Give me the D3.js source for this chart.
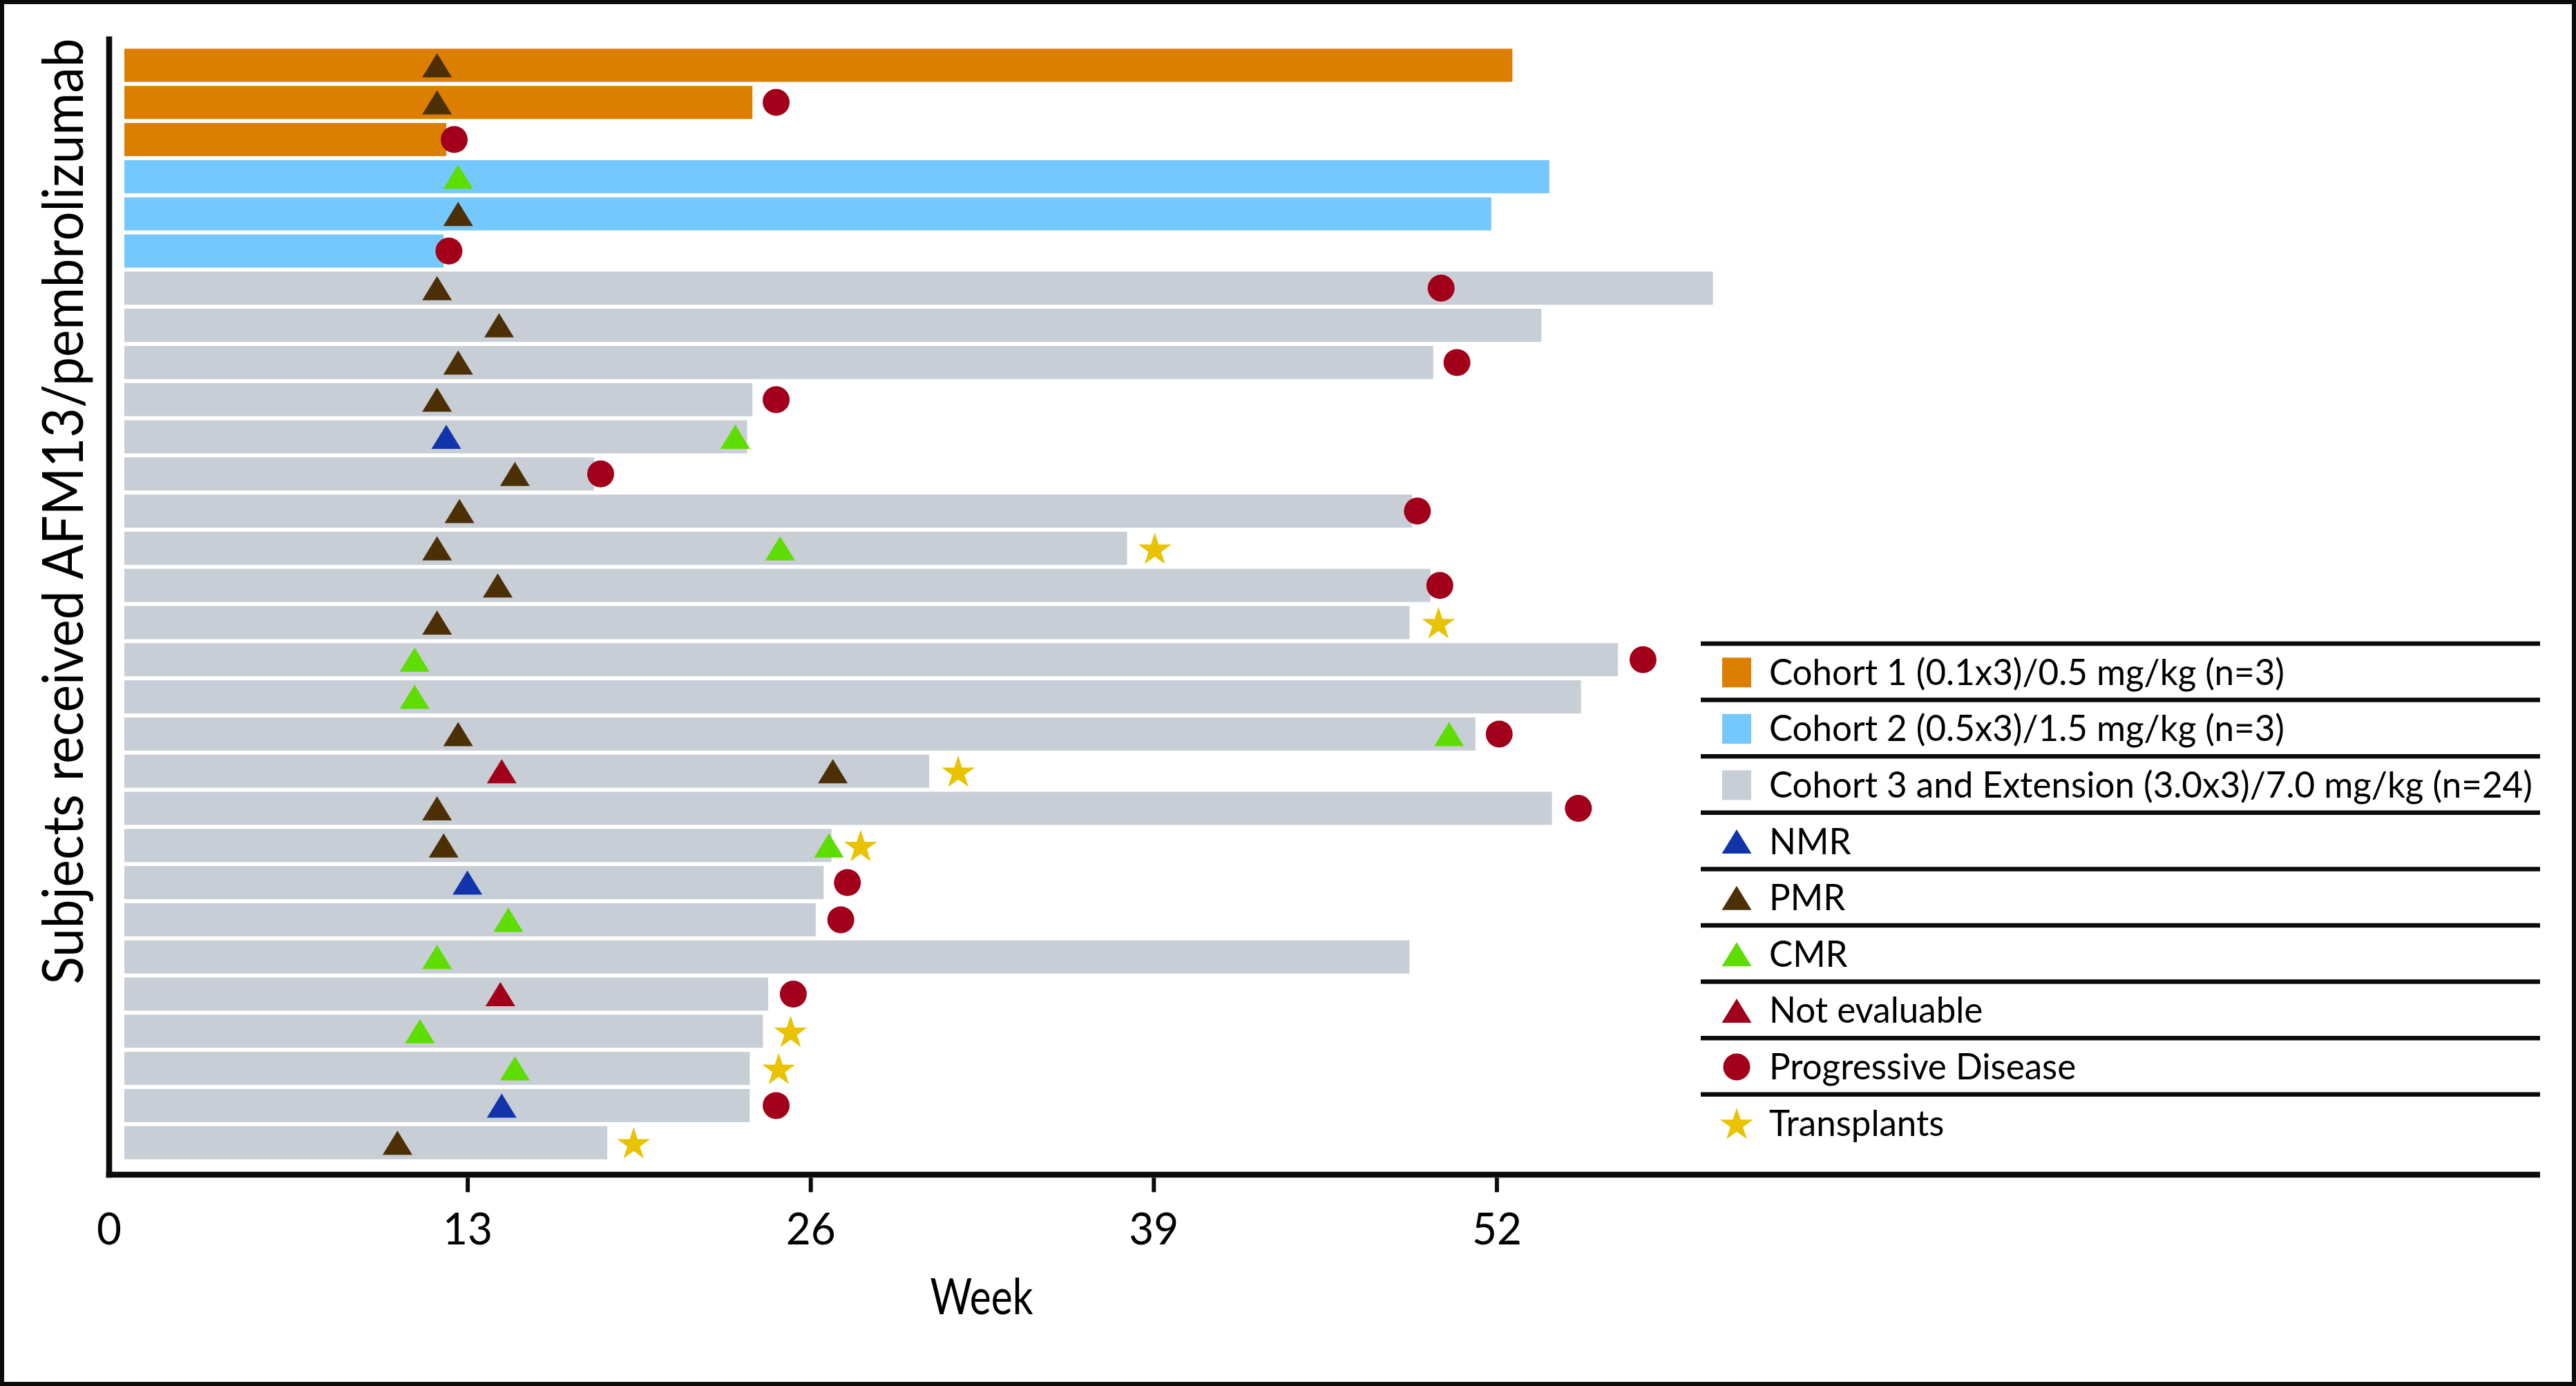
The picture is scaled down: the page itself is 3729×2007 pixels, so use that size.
<!DOCTYPE html>
<html>
<head>
<meta charset="utf-8">
<script src="https://cdn.jsdelivr.net/npm/d3@7"></script>
<style>
  html, body { margin: 0; padding: 0; background: #ffffff; }
  svg { display: block; }
</style>
</head>
<body>
<svg id="chart" width="3729" height="2007"></svg>
<script>
// ---------------- DATA ----------------
const subjects = ["S1","S2","S3","S4","S5","S6","S7","S8","S9","S10",
                  "S11","S12","S13","S14","S15","S16","S17","S18","S19","S20",
                  "S21","S22","S23","S24","S25","S26","S27","S28","S29","S30"];

const cohorts = ["C1","C1","C1","C2","C2","C2",
                 "C3","C3","C3","C3","C3","C3","C3","C3","C3","C3","C3","C3",
                 "C3","C3","C3","C3","C3","C3","C3","C3","C3","C3","C3","C3"];

// weeks on study (bar length)
const weeksOnStudy = [52.6, 23.8, 12.2, 54.0, 51.8, 12.1,
                      60.2, 53.7, 49.6, 23.8, 23.6, 17.8, 48.8, 38.0, 49.5,
                      48.7, 56.6, 55.2, 51.2, 30.5, 54.1, 26.8, 26.5, 26.2,
                      48.7, 24.4, 24.2, 23.7, 23.7, 18.3];

// [subject, week, event type]
const events = [
  ["S1", 11.85, "PMR"],
  ["S2", 11.85, "PMR"], ["S2", 24.7, "PD"],
  ["S3", 12.5, "PD"],
  ["S4", 12.65, "CMR"],
  ["S5", 12.65, "PMR"],
  ["S6", 12.3, "PD"],
  ["S7", 11.85, "PMR"], ["S7", 49.9, "PD"],
  ["S8", 14.2, "PMR"],
  ["S9", 12.65, "PMR"], ["S9", 50.5, "PD"],
  ["S10", 11.85, "PMR"], ["S10", 24.7, "PD"],
  ["S11", 12.2, "NMR"], ["S11", 23.15, "CMR"],
  ["S12", 14.8, "PMR"], ["S12", 18.05, "PD"],
  ["S13", 12.7, "PMR"], ["S13", 49.0, "PD"],
  ["S14", 11.85, "PMR"], ["S14", 24.85, "CMR"], ["S14", 39.05, "TX"],
  ["S15", 14.15, "PMR"], ["S15", 49.85, "PD"],
  ["S16", 11.85, "PMR"], ["S16", 49.8, "TX"],
  ["S17", 11.0, "CMR"], ["S17", 57.55, "PD"],
  ["S18", 11.0, "CMR"],
  ["S19", 12.65, "PMR"], ["S19", 50.2, "CMR"], ["S19", 52.1, "PD"],
  ["S20", 14.3, "NE"], ["S20", 26.85, "PMR"], ["S20", 31.6, "TX"],
  ["S21", 11.85, "PMR"], ["S21", 55.1, "PD"],
  ["S22", 12.1, "PMR"], ["S22", 26.7, "CMR"], ["S22", 27.9, "TX"],
  ["S23", 13.0, "NMR"], ["S23", 27.4, "PD"],
  ["S24", 14.55, "CMR"], ["S24", 27.15, "PD"],
  ["S25", 11.85, "CMR"],
  ["S26", 14.25, "NE"], ["S26", 25.35, "PD"],
  ["S27", 11.2, "CMR"], ["S27", 25.25, "TX"],
  ["S28", 14.8, "CMR"], ["S28", 24.8, "TX"],
  ["S29", 14.3, "NMR"], ["S29", 24.7, "PD"],
  ["S30", 10.35, "PMR"], ["S30", 19.3, "TX"]
];

const tickWeeks = [0, 13, 26, 39, 52];

const legendKeys = ["C1", "C2", "C3", "NMR", "PMR", "CMR", "NE", "PD", "TX"];
const legendLabels = ["Cohort 1 (0.1x3)/0.5 mg/kg (n=3)",
                      "Cohort 2 (0.5x3)/1.5 mg/kg (n=3)",
                      "Cohort 3 and Extension (3.0x3)/7.0 mg/kg (n=24)",
                      "NMR", "PMR", "CMR", "Not evaluable",
                      "Progressive Disease", "Transplants"];

const xTitle = "Week";
const yTitle = "Subjects received AFM13/pembrolizumab";

// ---------------- STYLE ----------------
const colors = {
  C1: "#dc7f00", C2: "#74c8fe", C3: "#c7ced6",
  NMR: "#1234aa", PMR: "#4d2f06", CMR: "#5edd00",
  NE: "#a2001a", PD: "#a2001a", TX: "#e9c200"
};
const shapeOf = { NMR: "tri", PMR: "tri", CMR: "tri", NE: "tri", PD: "circle", TX: "star" };
const FONT = "Lato, 'Open Sans', 'Noto Sans', sans-serif";
const INK = "#0a0c0a";

const W = 3729, H = 2007;
const svg = d3.select("#chart");

// ---------------- SCALES ----------------
const x = d3.scaleLinear().domain([0, 52]).range([180, 2166.4]);
const y = d3.scaleBand().domain(subjects).range([64.7, 1684.5]).padding(0.108);

const axisX = 158, axisTop = 52.7, axisY = 1701, axisRight = 3677;

// ---------------- FRAME ----------------
svg.append("rect").attr("x", 0).attr("y", 0).attr("width", W).attr("height", H)
  .attr("fill", "#fff").attr("stroke", INK).attr("stroke-width", 12);

// ---------------- BARS ----------------
const rows = subjects.map((s, i) => ({ s, cohort: cohorts[i], w: weeksOnStudy[i] }));
svg.append("g").selectAll("rect").data(rows).join("rect")
  .attr("x", x(0))
  .attr("y", d => y(d.s))
  .attr("width", d => x(d.w) - x(0))
  .attr("height", y.bandwidth())
  .attr("fill", d => colors[d.cohort]);

// ---------------- MARKERS ----------------
const TRI_W = 43, TRI_H = 35, CIRC_R = 19.5, STAR_R = 25.2;
const triPath = `M0,${-TRI_H/2}L${TRI_W/2},${TRI_H/2}L${-TRI_W/2},${TRI_H/2}Z`;
const starPath = d3.symbol(d3.symbolStar, STAR_R * STAR_R / 0.8908130915292852)();

function drawMarker(sel, type) {
  const sh = shapeOf[type];
  if (sh === "tri") {
    sel.append("path").attr("d", triPath).attr("fill", colors[type]);
  } else if (sh === "circle") {
    sel.append("circle").attr("r", CIRC_R).attr("fill", colors[type]);
  } else {
    sel.append("path").attr("d", starPath).attr("fill", colors[type]).attr("transform", "translate(0,2.5)");
  }
}

const mk = svg.append("g").selectAll("g").data(events).join("g")
  .attr("transform", d => `translate(${x(d[1])},${y(d[0]) + y.bandwidth() / 2})`);
mk.each(function(d) { drawMarker(d3.select(this), d[2]); });

// ---------------- AXES ----------------
svg.append("line").attr("x1", axisX).attr("x2", axisX).attr("y1", axisTop).attr("y2", axisY + 4.3)
  .attr("stroke", INK).attr("stroke-width", 8.6);
svg.append("line").attr("x1", axisX - 4.3).attr("x2", axisRight).attr("y1", axisY).attr("y2", axisY)
  .attr("stroke", INK).attr("stroke-width", 8.6);

const xAxisG = svg.append("g").attr("transform", `translate(0,${axisY + 4.3})`)
  .call(d3.axisBottom(x).tickValues(tickWeeks).tickSize(21).tickFormat(d3.format("d")));
xAxisG.select(".domain").remove();
xAxisG.selectAll(".tick line").attr("stroke", INK).attr("stroke-width", 6);
xAxisG.selectAll(".tick text")
  .attr("font-family", FONT).attr("font-size", 63).attr("fill", "#000")
  .attr("y", 0).attr("dy", 0);
// the "0" label sits on the y-axis line, with no tick mark
xAxisG.selectAll(".tick").filter(d => d === 0)
  .attr("transform", `translate(${axisX},0)`)
  .select("line").remove();

// condense tick labels
(function () {
  const t = xAxisG.selectAll(".tick text").filter(d => d === 26).node();
  const k = 72 / t.getComputedTextLength();
  xAxisG.selectAll(".tick text").attr("transform", `translate(0,${1802 - axisY - 4.3}) scale(${k},1)`);
})();

// x title
const xt = svg.append("text").text(xTitle)
  .attr("font-family", FONT).attr("font-size", 71).attr("fill", "#000")
  .attr("text-anchor", "middle");
{
  const k = 149 / xt.node().getComputedTextLength();
  xt.attr("transform", `translate(1421,1903) scale(${k},1)`);
}

// y title
const yt = svg.append("text").text(yTitle)
  .attr("font-family", FONT).attr("font-size", 81).attr("fill", "#000")
  .attr("text-anchor", "middle");
{
  const k = 1370 / yt.node().getComputedTextLength();
  yt.attr("transform", `translate(120,740.5) rotate(-90) scale(${k},1)`);
}

// ---------------- LEGEND ----------------
const LEG_X0 = 2462, LEG_X1 = 3677, LEG_TOP = 932, LEG_STEP = 81.6;
const legend = svg.append("g");
legend.selectAll("line").data(legendKeys).join("line")
  .attr("x1", LEG_X0).attr("x2", LEG_X1)
  .attr("y1", (d, i) => LEG_TOP + i * LEG_STEP).attr("y2", (d, i) => LEG_TOP + i * LEG_STEP)
  .attr("stroke", INK).attr("stroke-width", 6.5);

const items = legend.selectAll("g.item").data(legendKeys).join("g").attr("class", "item")
  .attr("transform", (d, i) => `translate(2514,${LEG_TOP + i * LEG_STEP + LEG_STEP / 2 + 1})`);
items.each(function(d) {
  const g = d3.select(this);
  if (d.startsWith("C") && d.length === 2) {
    g.append("rect").attr("x", -21).attr("y", -21.5).attr("width", 42).attr("height", 43).attr("fill", colors[d]);
  } else {
    drawMarker(g, d);
  }
});
const legText = items.append("text").text((d, i) => legendLabels[i])
  .attr("font-family", FONT).attr("font-size", 52).attr("fill", "#000");
{
  const longest = legText.filter((d, i) => i === 2).node();
  const k = 1105 / longest.getComputedTextLength();
  legText.attr("transform", `translate(47,18) scale(${k},1)`);
}
</script>
</body>
</html>
